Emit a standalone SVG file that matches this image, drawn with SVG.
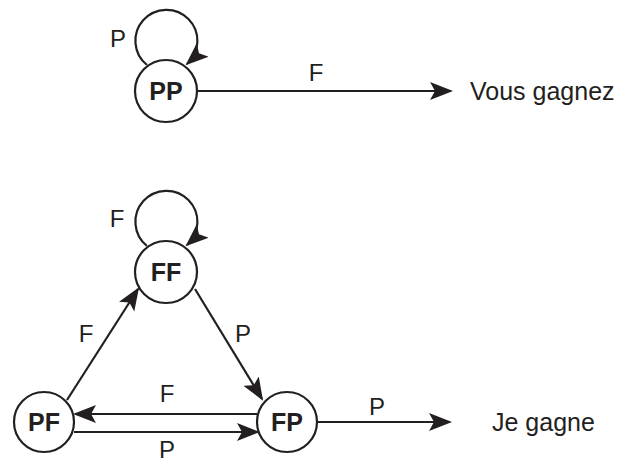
<svg xmlns="http://www.w3.org/2000/svg" width="630" height="463" viewBox="0 0 630 463">
<defs>
<style>
.node{fill:#fff;stroke:#231f20;stroke-width:2.2}
.nl{font-family:"Liberation Sans",Arial,sans-serif;font-weight:bold;font-size:25px;fill:#231f20;text-anchor:middle}
.el{font-family:"Liberation Sans",Arial,sans-serif;font-size:24px;fill:#231f20;text-anchor:middle}
.tx{font-family:"Liberation Sans",Arial,sans-serif;font-size:25px;fill:#231f20}
.e{fill:none;stroke:#231f20;stroke-width:2.2}
</style>
<marker id="ah" markerUnits="userSpaceOnUse" markerWidth="24" markerHeight="20" refX="21" refY="9" orient="auto" viewBox="0 0 24 18">
<path d="M0,0 L23,9 L0,18 L5,9 Z" fill="#231f20"/>
</marker>
</defs>
<rect width="630" height="463" fill="#fff"/>
<g id="connectors">
<path class="e" d="M147,65 A31,31 0 1 1 187,64" marker-end="url(#ah)"/>
<path class="e" d="M197,91 L451,91" marker-end="url(#ah)"/>
<path class="e" d="M147,246 A31,31 0 1 1 187,245" marker-end="url(#ah)"/>
<path class="e" d="M67,400 L138,289" marker-end="url(#ah)"/>
<path class="e" d="M195,289 L262,399" marker-end="url(#ah)"/>
<path class="e" d="M257,414 L75,414" marker-end="url(#ah)"/>
<path class="e" d="M74,432 L258,432" marker-end="url(#ah)"/>
<path class="e" d="M317,422 L450,422" marker-end="url(#ah)"/>
<text class="el" x="118" y="47">P</text>
<text class="el" x="316" y="81">F</text>
<text class="el" x="117" y="227">F</text>
<text class="el" x="86" y="342">F</text>
<text class="el" x="243" y="342">P</text>
<text class="el" x="167" y="402">F</text>
<text class="el" x="167" y="458">P</text>
<text class="el" x="377" y="415">P</text>
</g>
<g id="PP"><circle class="node" cx="166" cy="91" r="31"/><text class="nl" x="166" y="100">PP</text></g>
<g id="FF"><circle class="node" cx="166" cy="272" r="31"/><text class="nl" x="166" y="281">FF</text></g>
<g id="PF"><circle class="node" cx="44" cy="422" r="30"/><text class="nl" x="44" y="431">PF</text></g>
<g id="FP"><circle class="node" cx="287" cy="422" r="30"/><text class="nl" x="287" y="431">FP</text></g>
<g id="vous"><text class="tx" x="470" y="100">Vous gagnez</text></g>
<g id="je"><text class="tx" x="492" y="431">Je gagne</text></g>
</svg>
